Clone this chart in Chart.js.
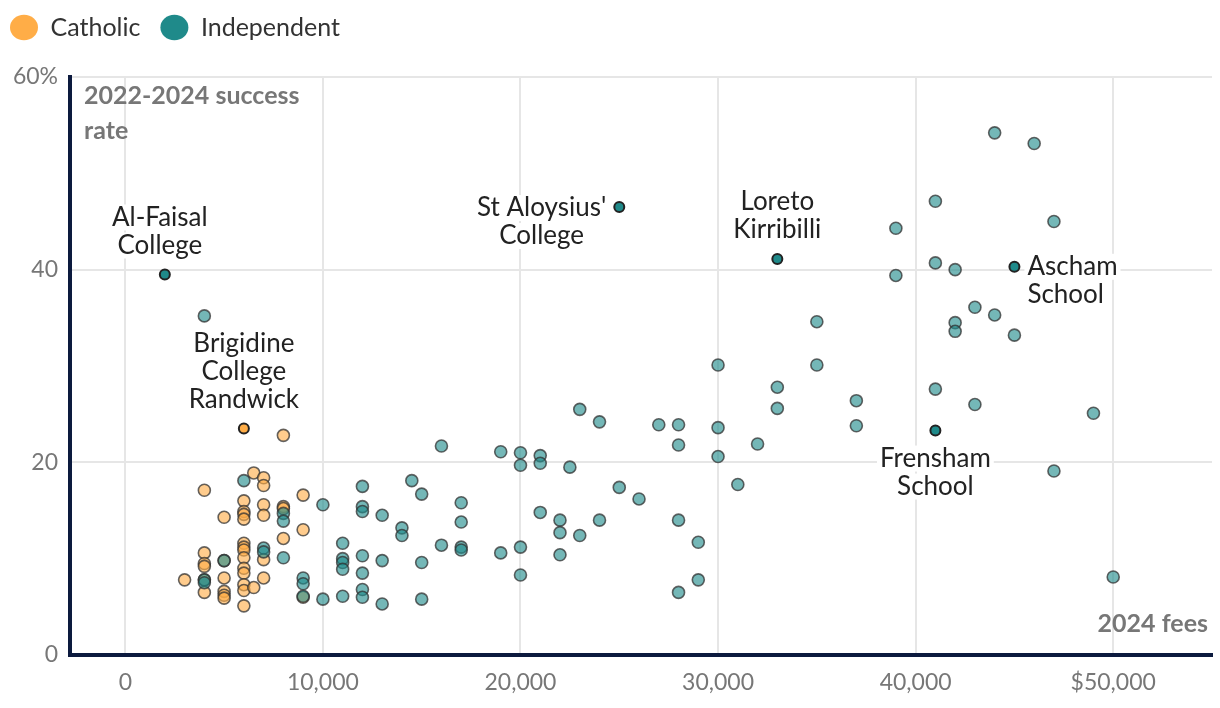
<!DOCTYPE html>
<html>
<head>
<meta charset="utf-8">
<script src="https://cdn.jsdelivr.net/npm/chart.js@4"></script>
<style>
  html, body { margin: 0; padding: 0; background: #fff; }
  #wrap { width: 1220px; height: 708px; position: relative; }
</style>
</head>
<body>
<div id="wrap"><canvas id="schoolChart"></canvas></div>
<script>
// Catholic schools: 2024 fees ($) and 2022-2024 success rate (%)
const catholicFees = [8000, 6500, 7000, 7000, 4000, 9000, 6000, 7000, 6000, 6000,
  6000, 7000, 8000, 8000, 5000, 9000, 8000, 4000, 4000, 4000,
  6000, 6000, 6000, 6000, 7000, 6000, 6000, 3000, 4000, 5000,
  5000, 5000, 5000, 6000, 6000, 6500, 7000, 6000, 9000, 5000, 4000];
const catholicRates = [22.8, 18.9, 18.4, 17.6, 17.1, 16.6, 16.0, 15.6, 14.9, 14.6,
  14.1, 14.5, 15.4, 15.2, 14.3, 13.0, 12.1, 10.6, 9.5, 9.2,
  11.6, 11.2, 10.9, 10.1, 9.9, 9.0, 8.5, 7.8, 6.5, 8.0,
  6.6, 6.2, 5.9, 7.3, 6.7, 7.0, 8.0, 5.1, 6.0, 9.8, 7.8];

// Independent schools
const independentFees = [4000, 6000, 4000, 4000, 5000, 7000, 7000, 8000, 8000, 8000,
  9000, 9000, 9000, 10000, 10000, 11000, 11000, 11000, 11000, 11000,
  12000, 12000, 12000, 12000, 12000, 12000, 12000, 13000, 13000, 13000,
  14000, 14000, 14500, 15000, 15000, 15000, 16000, 16000, 17000, 17000,
  17000, 17000, 19000, 19000, 20000, 20000, 20000, 20000, 21000, 21000,
  21000, 22000, 22000, 22000, 22500, 23000, 23000, 24000, 24000, 25000,
  26000, 27000, 28000, 28000, 28000, 28000, 29000, 29000, 30000, 30000,
  30000, 31000, 32000, 33000, 33000, 35000, 35000, 37000, 37000, 39000,
  39000, 41000, 41000, 41000, 42000, 42000, 42000, 43000, 43000, 44000,
  44000, 45000, 46000, 47000, 47000, 49000, 50000];
const independentRates = [35.2, 18.1, 7.8, 7.5, 9.8, 11.1, 10.7, 14.7, 13.9, 10.1,
  8.0, 7.4, 6.1, 15.6, 5.8, 11.6, 10.0, 9.6, 8.9, 6.1,
  17.5, 15.4, 14.9, 10.3, 8.5, 6.8, 6.0, 14.5, 9.8, 5.3,
  13.2, 12.4, 18.1, 16.7, 9.6, 5.8, 21.7, 11.4, 15.8, 13.8,
  11.2, 10.9, 21.1, 10.6, 21.0, 19.7, 11.2, 8.3, 20.7, 19.9,
  14.8, 14.0, 12.7, 10.4, 19.5, 25.5, 12.4, 24.2, 14.0, 17.4,
  16.2, 23.9, 23.9, 21.8, 14.0, 6.5, 11.7, 7.8, 30.1, 23.6,
  20.6, 17.7, 21.9, 27.8, 25.6, 30.1, 34.6, 26.4, 23.8, 44.3,
  39.4, 47.1, 40.7, 27.6, 40.0, 34.5, 33.6, 36.1, 26.0, 54.2,
  35.3, 33.2, 53.1, 45.0, 19.1, 25.1, 8.1];

// Named schools
const highlightNames = ['Al-Faisal\nCollege', "St Aloysius'\nCollege", 'Loreto\nKirribilli',
  'Ascham\nSchool', 'Frensham\nSchool', 'Brigidine\nCollege\nRandwick'];
const highlightFees = [2000, 25000, 33000, 45000, 41000, 6000];
const highlightRates = [39.5, 46.5, 41.1, 40.3, 23.3, 23.5];
const highlightSectors = ['Independent', 'Independent', 'Independent', 'Independent', 'Independent', 'Catholic'];

// Axis ticks
const feeTicks = [0, 10000, 20000, 30000, 40000, 50000];
const feeTickLabels = ['0', '10,000', '20,000', '30,000', '40,000', '$50,000'];
const rateTicks = [0, 20, 40, 60];
const rateTickLabels = ['0', '20', '40', '60%'];

const ORANGE = '#FFAD47';
const TEAL = '#1F8A8A';
const FONT = "Lato, 'PT Sans', 'Noto Sans', sans-serif";

// where each name sits relative to its dot
const labelPlace = [
  { side: 'above', dx: -5 },
  { side: 'left' },
  { side: 'above' },
  { side: 'right' },
  { side: 'below' },
  { side: 'above' }
];

const toPoints = (xs, ys) => xs.map((x, i) => ({ x: x, y: ys[i] }));

const legendSpacer = {
  id: 'legendSpacer',
  beforeInit(chart) {
    const fit = chart.legend.fit;
    chart.legend.fit = function () {
      fit.call(this);
      this.height = 82;
    };
  }
};

const annotate = {
  id: 'annotate',
  afterDatasetsDraw(chart) {
    const { ctx, chartArea } = chart;
    ctx.save();
    ctx.textBaseline = 'middle';

    // axis titles inside the plot
    ctx.font = 'bold 25px ' + FONT;
    ctx.fillStyle = '#777';
    ctx.textAlign = 'left';
    ctx.fillText('2022-2024 success', chartArea.left + 14, chartArea.top + 19);
    ctx.fillText('rate', chartArea.left + 14, chartArea.top + 54);
    ctx.textAlign = 'right';
    ctx.fillText('2024 fees', chartArea.right - 4, chartArea.bottom - 31);

    // school names
    const meta = chart.getDatasetMeta(2);
    const lh = 28;
    ctx.font = '26px ' + FONT;
    meta.data.forEach((pt, i) => {
      const lines = highlightNames[i].split('\n');
      const place = labelPlace[i];
      const widths = lines.map(l => ctx.measureText(l).width);
      const maxW = Math.max(...widths);
      let cx, y0, align;
      if (place.side === 'above') {
        cx = pt.x + (place.dx || 0); align = 'center';
        y0 = pt.y - 29 - lh * (lines.length - 1);
      } else if (place.side === 'below') {
        cx = pt.x; align = 'center'; y0 = pt.y + 28;
      } else if (place.side === 'left') {
        cx = pt.x - 13 - maxW / 2; align = 'center'; y0 = pt.y + 1;
      } else {
        cx = pt.x + 13; align = 'left'; y0 = pt.y;
      }
      lines.forEach((line, j) => {
        const y = y0 + j * lh;
        const w = widths[j];
        const left = align === 'center' ? cx - w / 2 : cx;
        ctx.fillStyle = '#fff';
        ctx.fillRect(left - 3, y - 13, w + 6, 26);
      });
      ctx.fillStyle = '#222';
      ctx.textAlign = align;
      lines.forEach((line, j) => ctx.fillText(line, cx, y0 + j * lh));
    });
    ctx.restore();
  }
};

const ctx = document.getElementById('schoolChart').getContext('2d');
const schoolChart = new Chart(ctx, {
  type: 'scatter',
  data: {
    datasets: [{
      label: 'Catholic',
      data: toPoints(catholicFees, catholicRates),
      backgroundColor: 'rgba(255,173,71,0.62)',
      borderColor: 'rgba(50,50,50,0.75)',
      borderWidth: 1.6,
      pointRadius: 6,
      order: 2
    }, {
      label: 'Independent',
      data: toPoints(independentFees, independentRates),
      backgroundColor: 'rgba(31,138,138,0.62)',
      borderColor: 'rgba(50,50,50,0.75)',
      borderWidth: 1.6,
      pointRadius: 6,
      order: 1
    }, {
      label: 'Named',
      data: toPoints(highlightFees, highlightRates),
      backgroundColor: highlightSectors.map(s => s === 'Catholic' ? ORANGE : TEAL),
      borderColor: '#222',
      borderWidth: 2,
      pointRadius: 5,
      order: 0
    }]
  },
  options: {
    responsive: true,
    maintainAspectRatio: false,
    animation: false,
    layout: { padding: { top: -5, right: 8, left: -10, bottom: 0 } },
    plugins: {
      tooltip: { enabled: false },
      legend: {
        position: 'top',
        align: 'start',
        labels: {
          usePointStyle: true,
          pointStyle: 'circle',
          pointStyleWidth: 28,
          boxHeight: 18,
          padding: 20,
          color: '#333',
          font: { family: FONT, size: 25 },
          generateLabels: chart => ['Catholic', 'Independent'].map((name, i) => ({
            text: name,
            fillStyle: i === 0 ? ORANGE : TEAL,
            strokeStyle: i === 0 ? ORANGE : TEAL,
            lineWidth: 0,
            pointStyle: 'circle',
            datasetIndex: i,
            fontColor: '#333'
          }))
        }
      }
    },
    scales: {
      x: {
        type: 'linear',
        min: -2800,
        max: 55000,
        afterFit: s => { s.height = 53; },
        afterBuildTicks: s => { s.ticks = feeTicks.map(v => ({ value: v })); },
        grid: { color: '#e6e6e6', lineWidth: 2, drawTicks: false },
        border: { color: '#0c1a3e', width: 4 },
        ticks: {
          padding: 14,
          color: '#777',
          font: { family: FONT, size: 23 },
          callback: v => feeTickLabels[feeTicks.indexOf(v)]
        }
      },
      y: {
        min: 0,
        max: 60,
        afterFit: s => { s.width = 80; },
        afterBuildTicks: s => { s.ticks = rateTicks.map(v => ({ value: v })); },
        grid: { color: '#e6e6e6', lineWidth: 2, drawTicks: false },
        border: { color: '#0c1a3e', width: 4 },
        ticks: {
          padding: 12,
          color: '#777',
          font: { family: FONT, size: 23 },
          callback: v => rateTickLabels[rateTicks.indexOf(v)]
        }
      }
    }
  },
  plugins: [legendSpacer, annotate]
});
</script>
</body>
</html>
